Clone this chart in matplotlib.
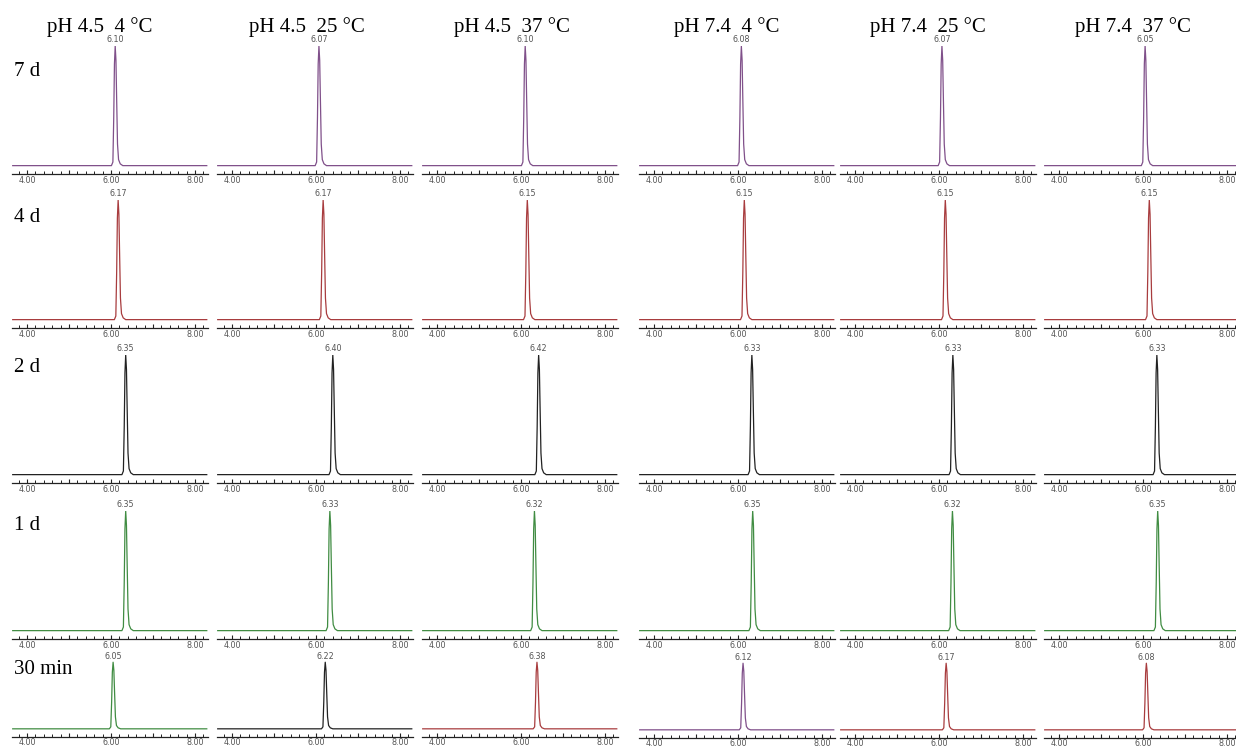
import matplotlib
matplotlib.use("Agg")
import matplotlib.pyplot as plt
from matplotlib.ticker import MultipleLocator, FixedLocator, FixedFormatter

# ---------------- data ----------------
col_titles = ["pH 4.5  4 \u00b0C", "pH 4.5  25 \u00b0C", "pH 4.5  37 \u00b0C",
              "pH 7.4  4 \u00b0C", "pH 7.4  25 \u00b0C", "pH 7.4  37 \u00b0C"]
row_labels = ["7 d", "4 d", "2 d", "1 d", "30 min"]

ret_7d = [6.10, 6.07, 6.10, 6.08, 6.07, 6.05]
ret_4d = [6.17, 6.17, 6.15, 6.15, 6.15, 6.15]
ret_2d = [6.35, 6.40, 6.42, 6.33, 6.33, 6.33]
ret_1d = [6.35, 6.33, 6.32, 6.35, 6.32, 6.35]
ret_30m = [6.05, 6.22, 6.38, 6.12, 6.17, 6.08]
retention = [ret_7d, ret_4d, ret_2d, ret_1d, ret_30m]

# relative peak heights per row
peak_height = [1.0, 1.0, 1.0, 1.0, 0.57]

# peak profile (offset from apex in min, relative height)
profile_dt = [-0.09, -0.055, -0.035, -0.018, 0.0, 0.018, 0.035, 0.055, 0.08, 0.12, 0.18]
profile_h = [0.0, 0.03, 0.40, 0.85, 1.0, 0.88, 0.55, 0.18, 0.05, 0.015, 0.0]

xticks_major = [4, 5, 6, 7, 8]
xtick_labels = ["4.00", "", "6.00", "", "8.00"]

purple = "#80508a"
red = "#a83c3e"
black = "#222222"
green = "#408c42"
row_colors = [[purple] * 6, [red] * 6, [black] * 6, [green] * 6,
              [green, black, red, purple, red, red]]

# ---------------- layout (pixels) ----------------
W, H = 1236, 751
fig = plt.figure(figsize=(W / 100, H / 100), dpi=100)

x4_px = [27, 232, 437, 654, 855, 1059]     # pixel of x=4.00 in each column
axis_y_px = [174, 328, 483, 639, 737]      # pixel of x-axis line per row
ax_h_px = 128
px_per_min = 42.0
xlim = (3.64, 8.30)
ylim = (-0.07, 1.0)
ax_w_px = (xlim[1] - xlim[0]) * px_per_min
title_x_px = [100, 307, 512, 727, 928, 1133]

for r in range(5):
    for c in range(6):
        left_px = x4_px[c] - (4 - xlim[0]) * px_per_min
        ay = axis_y_px[r] + (1 if (r == 4 and c >= 3) else 0)
        hpx = ax_h_px - (3 if r == 4 else 0)
        ax = fig.add_axes([left_px / W, 1 - ay / H, ax_w_px / W, hpx / H])
        ax.set_facecolor("none")
        t0 = retention[r][c]
        hh = peak_height[r]
        xs = [xlim[0] + 0.02] + [t0 + d for d in profile_dt] + [xlim[1] - 0.02]
        ys = [0.0] + [hh * v for v in profile_h] + [0.0]
        ax.plot(xs, ys, color=row_colors[r][c], lw=0.9)
        ax.annotate(f"{t0:.2f}", (t0, hh), xytext=(0, 1.2), textcoords="offset points",
                    ha="center", va="bottom", fontsize=5.8, color="#555555",
                    family="DejaVu Sans")
        ax.set_xlim(*xlim)
        ax.set_ylim(*ylim)
        for s in ("top", "left", "right"):
            ax.spines[s].set_visible(False)
        ax.spines["bottom"].set_color("#222222")
        ax.spines["bottom"].set_linewidth(0.9)
        ax.set_yticks([])
        ax.xaxis.set_major_locator(FixedLocator(xticks_major))
        ax.xaxis.set_major_formatter(FixedFormatter(xtick_labels))
        ax.xaxis.set_minor_locator(MultipleLocator(0.2))
        ax.tick_params(axis="x", which="major", direction="in", length=3, width=0.8,
                       color="#222222", labelsize=5.8, labelcolor="#555555",
                       pad=(0.8 if r == 4 else 1.5))
        ax.tick_params(axis="x", which="minor", direction="in", length=2, width=0.7,
                       color="#222222")
        for lab in ax.get_xticklabels():
            lab.set_family("DejaVu Sans")

serif = ["Liberation Serif", "DejaVu Serif"]
for c in range(6):
    fig.text(title_x_px[c] / W, 1 - 27 / H, col_titles[c], ha="center", va="center",
             fontsize=15, family=serif)

row_label_y_px = [72, 217, 368, 525, 670]
for r in range(5):
    fig.text(14 / W, 1 - row_label_y_px[r] / H, row_labels[r], ha="left", va="center",
             fontsize=15, family=serif)

fig.savefig("out.png", dpi=100)
